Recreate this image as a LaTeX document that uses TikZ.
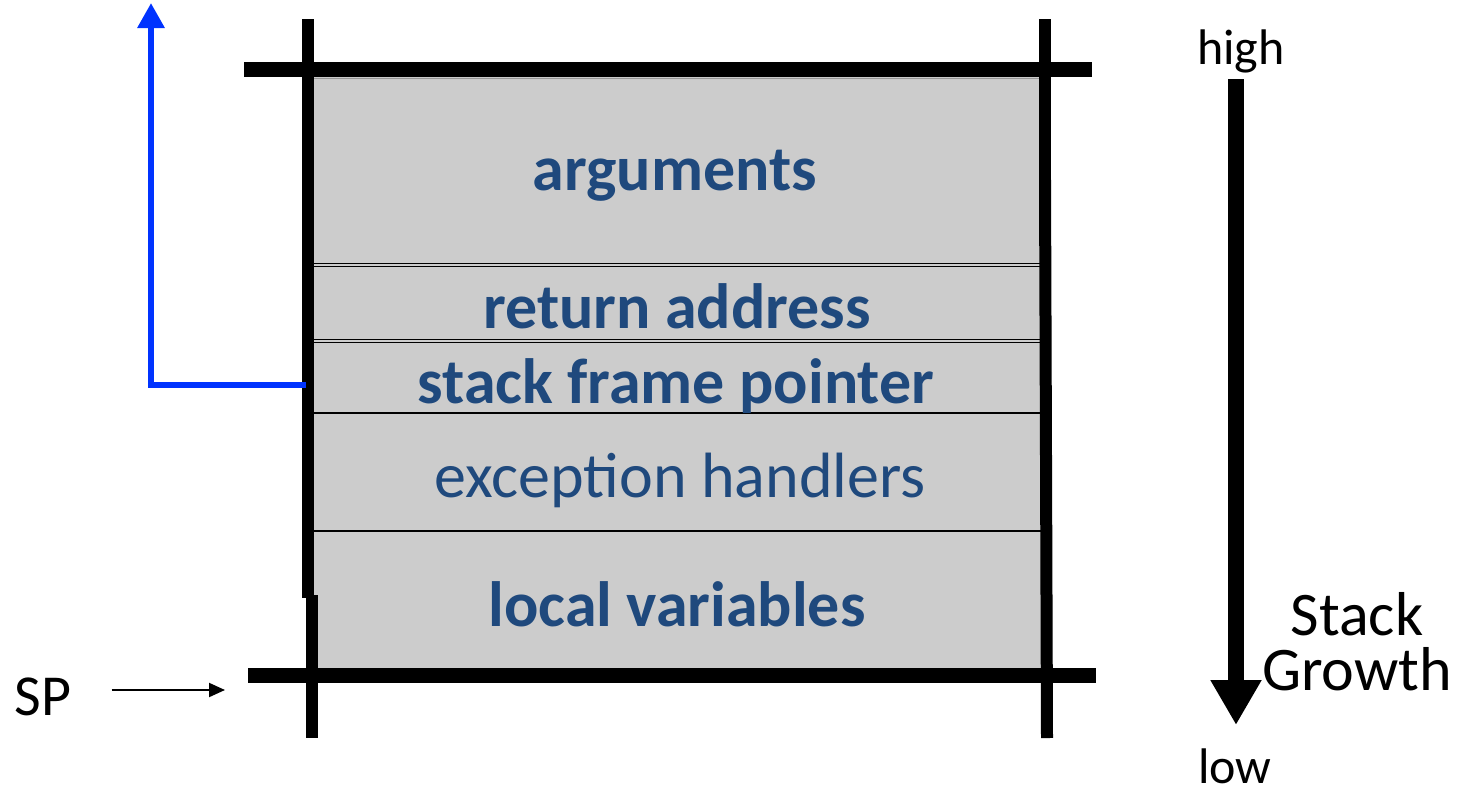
\documentclass[tikz,border=0pt]{standalone}
\usepackage{fontspec}
\setmainfont{Carlito}
\usepackage{xcolor}
\usepackage{tikz}
\usetikzlibrary{arrows.meta,positioning,calc}

\definecolor{slotblue}{RGB}{31,73,125}
\definecolor{slotgray}{RGB}{204,204,204}
\definecolor{linkblue}{RGB}{0,51,255}

\tikzset{
  slotlabel/.style={anchor=base, text=slotblue, font=\fontsize{64}{70}\selectfont\bfseries},
  sidelabel/.style={anchor=base, inner sep=0pt, font=\fontsize{50}{56}\selectfont},
  rail/.style={line width=12pt},
  bar/.style={line width=15pt},
  divider/.style={line width=1.5pt},
}

\begin{document}
\begin{tikzpicture}[x=1pt,y=-1pt]
    \useasboundingbox (0,0) rectangle (1464,790);

    % Frame body
    \fill[slotgray] (313,77) rectangle (1041,668);
    \draw[line width=0.8pt, black!40] (313,78) -- (1041,78);

    % Slot dividers
    \draw[line width=1pt] (313,263) -- (1041,263);
    \draw[line width=1pt] (313,266) -- (1041,266);
    \draw[line width=1pt] (313,339) -- (1041,339);
    \draw[line width=1pt] (313,342) -- (1041,342);
    \draw[divider] (313,413) -- (1041,413);
    \draw[divider] (313,531) -- (1041,531);

    % Rails
    \draw[rail] (308,19) -- (308,598);
    \draw[rail] (312,595) -- (312,738);
    \draw[rail] (1045,19) -- (1045,180);
    \draw[rail] (1045,180) -- (1047,738);

    % Bars
    \draw[bar] (244,69) -- (1092,69);
    \draw[bar] (248,675) -- (1096,675);

    % Slot labels
    \node[slotlabel] (args) at (675,190) {arguments};
    \node[slotlabel] (ret) at (677,328) {return address};
    \node[slotlabel] (sfp) at (676,403) {stack frame pointer};
    \node[slotlabel, font=\fontsize{64}{70}\selectfont] (exc) at (680,497) {exception handlers};
    \node[slotlabel] (locals) at (677,626) {local variables};

    % Frame pointer link
    \coordinate (fpsrc) at (306,385);
    \coordinate (fptop) at (151,3);
    \draw[linkblue, line width=6pt, -{Triangle[length=25pt,width=26pt]}] (fpsrc) -| (fptop);

    % Stack pointer
    \node[sidelabel, font=\fontsize{58}{60}\selectfont] (sp) at (43,715) {SP};
    \coordinate (sptip) at (225,690);
    \draw[line width=2pt, -{Triangle[length=16pt,width=14pt]}] ($(sp.east |- sptip)+(40,0)$) -- (sptip);

    % Growth direction
    \node[sidelabel] (high) at (1241,64) {high};
    \node[sidelabel] (low) at (1235,783) {low};
    \coordinate (gtop) at (1236,79);
    \coordinate (gtip) at (1236,725);
    \draw[line width=16pt, -{Triangle[length=45pt,width=48pt]}] (gtop) -- (gtip);
    \node[sidelabel, font=\fontsize{62}{62}\selectfont] (stack) at (1357,635) {Stack};
    \node[sidelabel, font=\fontsize{62}{62}\selectfont] (growth) at (1357,690) {Growth};
\end{tikzpicture}
\end{document}
